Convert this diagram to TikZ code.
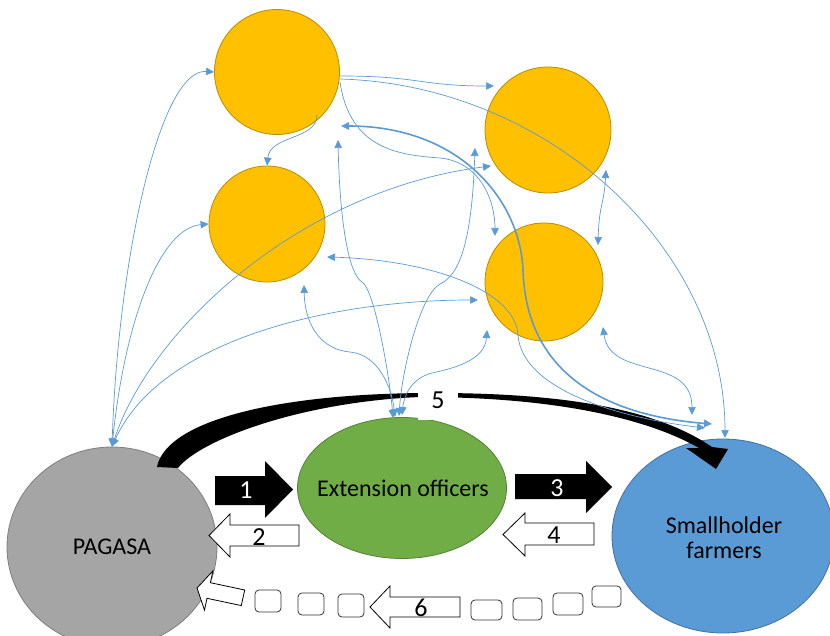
\documentclass[tikz,border=0pt]{standalone}
\usepackage{fontspec}
\setmainfont{Carlito}
\usetikzlibrary{shapes.geometric,arrows.meta,calc}
\definecolor{gold}{HTML}{FFC000}
\definecolor{goldline}{HTML}{BC8C00}
\definecolor{greyfill}{HTML}{A5A5A5}
\definecolor{greyline}{HTML}{7F7F7F}
\definecolor{greenfill}{HTML}{70AD47}
\definecolor{greenline}{HTML}{548235}
\definecolor{bluefill}{HTML}{5B9BD5}
\definecolor{blueline}{HTML}{41719C}
\definecolor{linkblue}{HTML}{5B9BD5}
\begin{document}
\begin{tikzpicture}[x=1pt,y=-1pt,
  actor/.style={circle, fill=gold, draw=goldline, line width=0.8pt, inner sep=0pt, minimum size=#1},
  party/.style={ellipse, line width=0.8pt, inner sep=0pt},
  partyname/.style={inner sep=0pt, align=center, font=\fontsize{24}{28}\selectfont},
  tipA/.tip={Triangle[length=8pt,width=7.5pt]},
  link/.style={draw=linkblue, line width=0.7pt, -tipA},
  twoway/.style={draw=linkblue, line width=0.7pt, tipA-tipA},
  heavylink/.style={draw=linkblue, line width=1.6pt, tipA-tipA},
  solidarrow/.style={fill=black},
  hollowarrow/.style={fill=white, draw=black, line width=0.8pt, line join=miter},
  digit/.style={inner sep=0pt, font=\fontsize{26}{30}\selectfont},
  roundbox/.style={fill=white, draw=black!80, line width=0.8pt, rounded corners=4pt}]
\useasboundingbox (0,0) rectangle (830,636);

% the three parties
\node[party, fill=greyfill, draw=greyline, minimum width=210pt, minimum height=200pt] (PAGASA) at (112,547) {};
\node[party, fill=greenfill, draw=greenline, minimum width=209pt, minimum height=141pt] (EXT) at (402,488) {};
\node[party, fill=bluefill, draw=blueline, minimum width=222pt, minimum height=194pt] (SHF) at (723,536) {};
\node[partyname] (PAGASAname) at (112,547) {PAGASA};
\node[partyname] (EXTname) at (403,488) {Extension officers};
\node[partyname] (SHFname) at (724,538) {Smallholder\\[-3pt]farmers};

% the four unnamed actors
\node[actor=125pt] (C1) at (277,72) {};
\node[actor=116pt] (C2) at (267,224) {};
\node[actor=126pt] (C3) at (548,130) {};
\node[actor=118pt] (C4) at (544,282) {};

% flow 5: tapered curved arrow from PAGASA to the farmers
\fill (157,467) .. controls (165,425) and (260,395) .. (420,393)
  .. controls (560,392) and (655,408) .. (712,447)
  -- (728,449) -- (716,469) -- (686,448) -- (699,448)
  .. controls (650,420) and (560,397) .. (420,397)
  .. controls (300,402) and (200,440) .. (178,468) -- cycle;
\node[fill=white, minimum width=40pt, minimum height=40pt, inner sep=0pt,
  font=\fontsize{26}{30}\selectfont] (L5) at (438,400) {5};

% block arrows 1-4 and 6
\path[solidarrow] (215,476) -- (265,476) -- (265,461) -- (293,489.5) -- (265,518) -- (265,505) -- (215,505) -- cycle;
\node[digit, text=white] (L1) at (246,490) {1};
\path[hollowarrow] (299,525) -- (230,525) -- (230,514) -- (209,535.5) -- (230,557) -- (230,546) -- (299,546) -- cycle;
\node[digit] (L2) at (259,537) {2};
\path[solidarrow] (515,474) -- (586,474) -- (586,461) -- (612,487) -- (586,513) -- (586,499) -- (515,499) -- cycle;
\node[digit, text=white] (L3) at (557,488) {3};
\path[hollowarrow] (594,523) -- (525,523) -- (525,513) -- (503,534.5) -- (525,556) -- (525,545) -- (594,545) -- cycle;
\node[digit] (L4) at (554,535) {4};
\path[hollowarrow] (460,597) -- (390,597) -- (390,586) -- (370,607) -- (390,628) -- (390,617) -- (460,617) -- cycle;
\node[digit] (L6) at (421,608) {6};
\path[hollowarrow] (197,588) -- (212.9,570.9) -- (210.4,582.7) -- (244.7,590) -- (241.3,605.6) -- (207,598.3) -- (204.5,610.1) -- cycle;

% the broken chain of small boxes
\path[roundbox] (255,590) rectangle (281,612);
\path[roundbox] (298,593) rectangle (324,615);
\path[roundbox] (338,594) rectangle (364,617);
\path[roundbox] (471,600) rectangle (502,620);
\path[roundbox] (513,598) rectangle (542,620);
\path[roundbox] (553,593) rectangle (583,615);
\path[roundbox] (592,586) rectangle (621,607);

% connection points
\coordinate (c1e1) at ($(C1)+(63,4)$);
\coordinate (c1e2) at ($(C1)+(63,7)$);
\coordinate (c1e3) at ($(C1)+(63,10)$);
\coordinate (c1s)  at ($(C1)+(40,43)$);
\coordinate (c1th) at ($(C1)+(64,54)$);
\coordinate (c1b)  at ($(C1)+(61,68)$);
\coordinate (c2e)  at ($(C2)+(60,33)$);
\coordinate (c2b)  at ($(C2)+(37,61)$);
\coordinate (c3w)  at ($(C3)+(-54,-44)$);
\coordinate (c3sw) at ($(C3)+(-57,36)$);
\coordinate (c3b)  at ($(C3)+(-73,18)$);
\coordinate (c3se) at ($(C3)+(58,40)$);
\coordinate (c4nw) at ($(C4)+(-49,-46)$);
\coordinate (c4w)  at ($(C4)+(-66,18)$);
\coordinate (c4sw) at ($(C4)+(-57,48)$);
\coordinate (c4se) at ($(C4)+(59,45)$);
\coordinate (c4ne) at ($(C4)+(54,-37)$);
\coordinate (e1) at ($(EXT)+(-9,-70)$);
\coordinate (e2) at ($(EXT)+(-7,-71)$);
\coordinate (e3) at ($(EXT)+(-3,-72)$);
\coordinate (e4) at ($(EXT)+(0,-73)$);
\coordinate (s1) at ($(SHF)+(2,-98)$);
\coordinate (s2) at ($(SHF)+(-11,-112)$);
\coordinate (s3) at ($(SHF)+(-18,-108)$);
\coordinate (s4) at ($(SHF)+(-31,-121)$);

% PAGASA to the actors
\draw[twoway] (PAGASA.north) .. controls (118,260) and (160,68) .. (C1.west);
\draw[twoway] (PAGASA.north) .. controls (125,320) and (160,228) .. (C2.west);
\draw[twoway] (PAGASA.north) .. controls (150,330) and (300,190) .. (c3sw);
\draw[twoway] (PAGASA.north) .. controls (160,340) and (330,300) .. (c4w);

% links among the actors
\draw[link] (c1s) .. controls (317,140) and (270,135) .. (C2.north);
\draw[link] (c1e1) .. controls (420,76) and (420,86) .. (c3w);
\draw[link] (c1e3) .. controls (350,150) and (400,155) .. (440,158)
  .. controls (480,162) and (495,200) .. (c4nw);
\draw[twoway] (c3se) .. controls (604,205) and (599,205) .. (c4ne);

% actors to the extension officers
\draw[twoway] (c1b) .. controls (340,230) and (350,275) .. (362,282)
  .. controls (375,290) and (390,380) .. (e1);
\draw[twoway] (c2b) .. controls (305,330) and (325,350) .. (350,352)
  .. controls (380,355) and (392,390) .. (e2);
\draw[twoway] (c3b) .. controls (472,240) and (460,275) .. (440,284)
  .. controls (420,295) and (402,370) .. (e3);
\draw[twoway] (c4sw) .. controls (485,360) and (455,368) .. (432,373)
  .. controls (412,378) and (404,395) .. (e4);

% actors to the farmers
\draw[link] (c1e2) .. controls (550,85) and (725,250) .. (s1);
\draw[twoway] (c2e) .. controls (430,260) and (515,290) .. (518,335)
  .. controls (522,390) and (620,418) .. (s3);
\draw[twoway] (c4se) .. controls (610,380) and (692,355) .. (s4);
\draw[heavylink] (c1th) .. controls (460,126) and (520,200) .. (523,270)
  .. controls (526,370) and (600,415) .. (s2);
\end{tikzpicture}
\end{document}
